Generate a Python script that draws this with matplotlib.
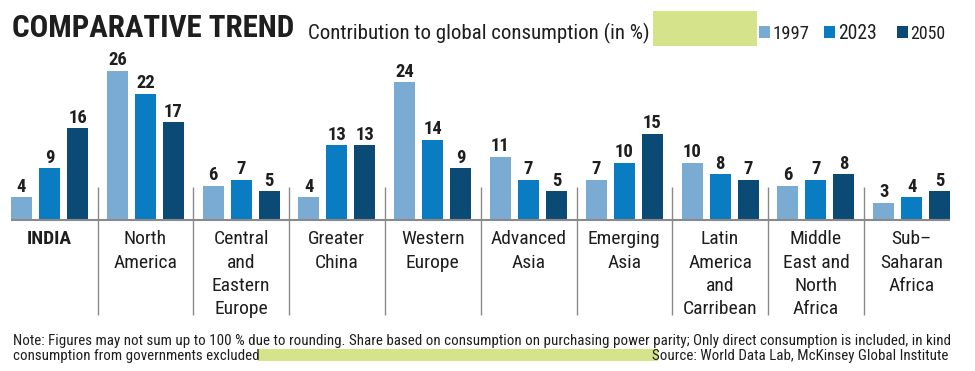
import numpy as np
import matplotlib
matplotlib.use("Agg")
import matplotlib.pyplot as plt
from matplotlib import font_manager as fm
from matplotlib.patches import Rectangle

# ── Data ──────────────────────────────────────────────────────────────
REGIONS = [
    "INDIA",
    "North\nAmerica",
    "Central\nand\nEastern\nEurope",
    "Greater\nChina",
    "Western\nEurope",
    "Advanced\nAsia",
    "Emerging\nAsia",
    "Latin\nAmerica\nand\nCarribean",
    "Middle\nEast and\nNorth\nAfrica",
    "Sub–\nSaharan\nAfrica",
]
YEARS = ["1997", "2023", "2050"]
SHARE_1997 = [4, 26, 6, 4, 24, 11, 7, 10, 6, 3]
SHARE_2023 = [9, 22, 7, 13, 14, 7, 10, 8, 7, 4]
SHARE_2050 = [16, 17, 5, 13, 9, 5, 15, 7, 8, 5]

TITLE = "COMPARATIVE TREND"
SUBTITLE = "Contribution to global consumption (in %)"
NOTE_1 = ("Note: Figures may not sum up to 100 % due to rounding. Share based on "
          "consumption on purchasing power parity; Only direct consumption is "
          "included, in kind")
NOTE_2 = "consumption from governments excluded"
SOURCE = "Source: World Data Lab, McKinsey Global Institute"

# ── Style ─────────────────────────────────────────────────────────────
COLORS = ["#79abd3", "#0a7cc1", "#0b4a74"]
GREEN = "#d5e48b"
INK = "#1e1e1e"
GRID = "#8a8a8a"

# pick a narrow face if one is around, else a compact sans
_names = {f.name for f in fm.fontManager.ttflist}
STRETCH = "normal"
for cand in ["Liberation Sans Narrow", "Roboto Condensed", "Open Sans Condensed"]:
    if cand in _names:
        FAMILY = cand
        break
else:
    if any(f.name == "DejaVu Sans" and "Condensed" in f.fname
           for f in fm.fontManager.ttflist):
        FAMILY, STRETCH = "DejaVu Sans", "condensed"
    else:
        FAMILY = "Roboto"
plt.rcParams["font.family"] = [FAMILY, "DejaVu Sans"]
plt.rcParams["font.stretch"] = STRETCH

W, H = 975, 371          # output size in pixels
PX_UNIT = 5.74           # pixels per percentage point
BASE = 220               # baseline, pixels from top
GROUP = 95.8             # pixels per region group
X0 = 11                  # left edge of first bar
STEP = 28 / GROUP        # bar step inside a group
BAR_W = 21 / GROUP


def py(pix):
    """pixel row (from top) -> data value"""
    return (BASE - pix) / PX_UNIT


fig = plt.figure(figsize=(W / 100, H / 100), dpi=100)
renderer = fig.canvas.get_renderer()


def size_for(s, width, weight="normal"):
    t = fig.text(0, 0, s, fontsize=10, fontweight=weight)
    w = t.get_window_extent(renderer).width
    t.remove()
    return 10 * width / w


ax = fig.add_axes([0, 0, 1, 1])
ax.set_xlim(-X0 / GROUP, (W - X0) / GROUP)
ax.set_ylim(py(H), py(0))
ax.axis("off")

VAL_FS = min(size_for("16", 19, "bold"), 14)
CAT_FS = min(size_for("America", 63), 15)

idx = np.arange(len(REGIONS))
for j, vals in enumerate([SHARE_1997, SHARE_2023, SHARE_2050]):
    xs = idx + j * STEP
    ax.bar(xs, vals, width=BAR_W, align="edge", color=COLORS[j], zorder=2)
    for x, v in zip(xs, vals):
        ax.text(x + BAR_W / 2, v + 5.5 / PX_UNIT, str(v), ha="center",
                va="baseline", fontsize=VAL_FS, fontweight="bold", color=INK)

# baseline and group separators
ax.hlines(0, 0, len(REGIONS) - 1 + 2 * STEP + BAR_W, color=GRID, lw=1.5, zorder=3)
ax.vlines(idx[:-1] + 0.905, py(315), py(187), color=GRID, lw=1.0)

# category labels, one line at a time
for i, lab in enumerate(REGIONS):
    cx = i + STEP + BAR_W / 2
    for k, line in enumerate(lab.split("\n")):
        ax.text(cx, py(244 + 23.5 * k), line, ha="center", va="baseline",
                fontsize=CAT_FS, color=INK,
                fontweight="bold" if lab == "INDIA" else "normal")


# ── Header / footer ───────────────────────────────────────────────────
def fig_text(x, y, s, width=None, **kw):
    t = fig.text(x / W, 1 - y / H, s, va="baseline", color=INK, **kw)
    if width is not None:
        w = t.get_window_extent(renderer).width
        t.set_fontsize(t.get_fontsize() * width / w)
    return t


def fig_rect(x0, y0, x1, y1, color):
    fig.add_artist(Rectangle((x0 / W, 1 - y1 / H), (x1 - x0) / W, (y1 - y0) / H,
                             transform=fig.transFigure, color=color, lw=0))


fig_text(12, 37, TITLE, width=283, fontsize=30, fontweight="bold")
fig_text(308, 39, SUBTITLE, width=343, fontsize=15)
fig_rect(653, 11, 757, 46, GREEN)

leg = [(759, 773, 37), (824, 838, 39), (897, 910, 35)]
for (sx, tx, tw), year, c in zip(leg, YEARS, COLORS):
    fig_rect(sx, 26, sx + 11, 38, c)
    fig_text(tx, 39, year, width=tw, fontsize=14)

note = fig_text(13, 345, NOTE_1, width=934, fontsize=11)
fs = note.get_fontsize()
fig_text(13, 360, NOTE_2, fontsize=fs)
fig_rect(258, 349, 658, 361, GREEN)
fig_text(948, 360, SOURCE, fontsize=fs, ha="right")

fig.savefig("out.png", dpi=100, facecolor="white")
